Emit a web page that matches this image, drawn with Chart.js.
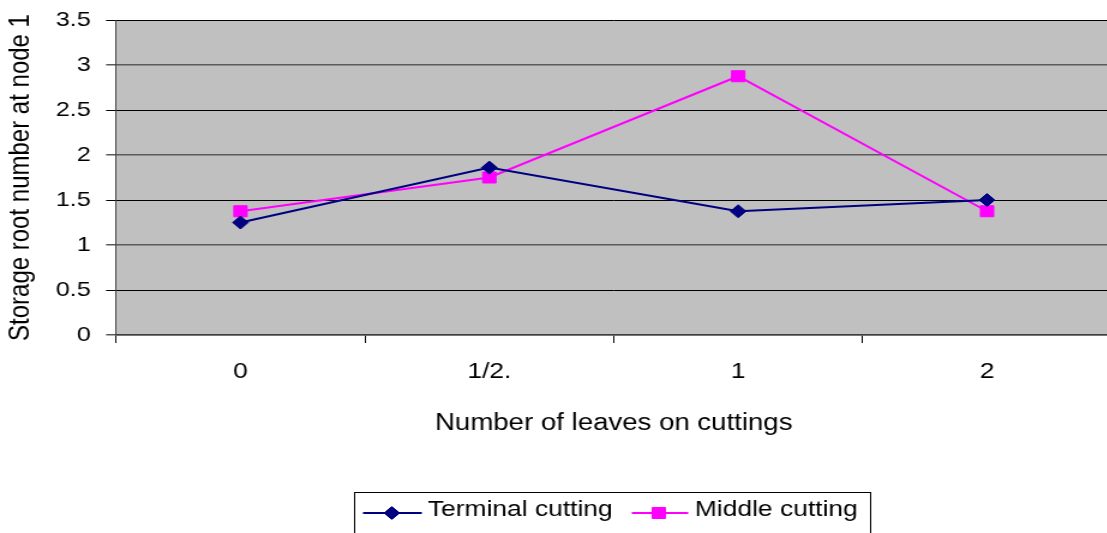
<!DOCTYPE html>
<html><head><meta charset="utf-8">
<script src="https://cdn.jsdelivr.net/npm/chart.js@4"></script>
<style>
html,body{margin:0;padding:0;background:#fff;overflow:hidden;}
#wrap{width:1107px;height:533px;overflow:hidden;position:relative;}
#stretch{width:935px;height:533px;transform:scaleX(1.2);transform-origin:0 0;}
canvas{display:block;}
</style></head><body>
<div id="wrap"><div id="stretch"><canvas id="c" width="935" height="533"></canvas></div></div>
<script>
const categories = ['0', '1/2.', '1', '2'];
const terminalCutting = [1.25, 1.86, 1.375, 1.5];
const middleCutting = [1.375, 1.75, 2.875, 1.375];
const yTickLabels = ['0', '0.5', '1', '1.5', '2', '2.5', '3', '3.5'];
const seriesNames = ['Terminal cutting', 'Middle cutting'];

const FONT = "'Liberation Sans', Arial, sans-serif";

const plotBg = {
  id: 'plotBg',
  beforeDraw(chart) {
    const {ctx, chartArea: a} = chart;
    ctx.save();
    ctx.fillStyle = '#C0C0C0';
    ctx.fillRect(a.left, a.top, a.right - a.left, a.bottom - a.top);
    ctx.restore();
  }
};

const boxLegend = {
  id: 'boxLegend',
  afterDraw(chart) {
    const ctx = chart.ctx;
    ctx.save();
    ctx.strokeStyle = '#000';
    ctx.lineWidth = 1;
    ctx.strokeRect(295.5, 492.5, 430, 60);
    const items = [
      {x0: 302.5, x1: 351.5, mx: 326.5, tx: 356.5},
      {x0: 526.5, x1: 573.5, mx: 549, tx: 579}
    ];
    const y = 513;
    chart.data.datasets.forEach((ds, i) => {
      const it = items[i];
      ctx.strokeStyle = ds.borderColor;
      ctx.lineWidth = 2;
      ctx.beginPath();
      ctx.moveTo(it.x0, y);
      ctx.lineTo(it.x1, y);
      ctx.stroke();
      ctx.fillStyle = ds.pointBackgroundColor;
      ctx.strokeStyle = ds.pointBorderColor;
      ctx.lineWidth = 1;
      Chart.helpers.drawPoint(ctx, {pointStyle: ds.pointStyle, radius: ds.pointRadius, rotation: 0, borderWidth: 1}, it.mx, y);
      ctx.fillStyle = '#000';
      ctx.font = "22px " + FONT;
      ctx.textBaseline = 'middle';
      ctx.textAlign = 'left';
      ctx.fillText(ds.label, it.tx, 510);
    });
    ctx.restore();
  }
};

new Chart(document.getElementById('c'), {
  type: 'line',
  data: {
    labels: categories,
    datasets: [
      {
        label: seriesNames[0],
        data: terminalCutting,
        borderColor: '#000080',
        backgroundColor: '#000080',
        pointBackgroundColor: '#000080',
        pointBorderColor: '#000080',
        borderWidth: 2,
        pointStyle: 'rectRot',
        pointRadius: 6.5,
        pointBorderWidth: 1,
        tension: 0
      },
      {
        label: seriesNames[1],
        data: middleCutting,
        borderColor: '#FF00FF',
        backgroundColor: '#FF00FF',
        pointBackgroundColor: '#FF00FF',
        pointBorderColor: '#FF00FF',
        borderWidth: 2,
        pointStyle: 'rect',
        pointRadius: 7.8,
        pointBorderWidth: 1,
        tension: 0
      }
    ]
  },
  options: {
    responsive: false,
    animation: false,
    devicePixelRatio: 1,
    layout: {padding: {top: 20, right: 0, left: 0, bottom: 0}},
    plugins: {legend: {display: false}, tooltip: {enabled: false}},
    scales: {
      x: {
        offset: true,
        grid: {offset: true, drawOnChartArea: false, drawTicks: true, tickLength: 8, color: '#000', lineWidth: 1},
        border: {display: true, color: '#404040', width: 1.5},
        ticks: {color: '#000', font: {family: FONT, size: 22}, padding: 16, maxRotation: 0, autoSkip: false},
        title: {display: true, text: 'Number of leaves on cuttings', color: '#000', font: {family: FONT, size: 23}, padding: {top: 0, bottom: 96}},
        afterFit(scale) { scale.height = 198; scale.paddingLeft = 0; scale.paddingRight = 0; }
      },
      y: {
        min: 0,
        max: 3.5,
        grid: {
          drawTicks: true,
          tickLength: 8.3,
          color: (c) => (c.tick && Math.abs(c.tick.value % 1) < 1e-9) ? '#5a5a5a' : '#000',
          lineWidth: (c) => (c.tick && Math.abs(c.tick.value % 1) < 1e-9) ? 1.5 : 1
        },
        border: {display: true, color: '#404040', width: 1},
        ticks: {
          stepSize: 0.5,
          color: '#000',
          font: {family: FONT, size: 21},
          padding: 12.8,
          callback: (v, i) => yTickLabels[i]
        },
        title: {display: true, text: 'Storage root number at node 1', color: '#000', font: {family: FONT, size: 24}, padding: {top: 3, bottom: 0}},
        afterFit(scale) { scale.width = 96.7; scale.paddingTop = 0; scale.paddingBottom = 0; }
      }
    }
  },
  plugins: [plotBg, boxLegend]
});
</script>
</body></html>
